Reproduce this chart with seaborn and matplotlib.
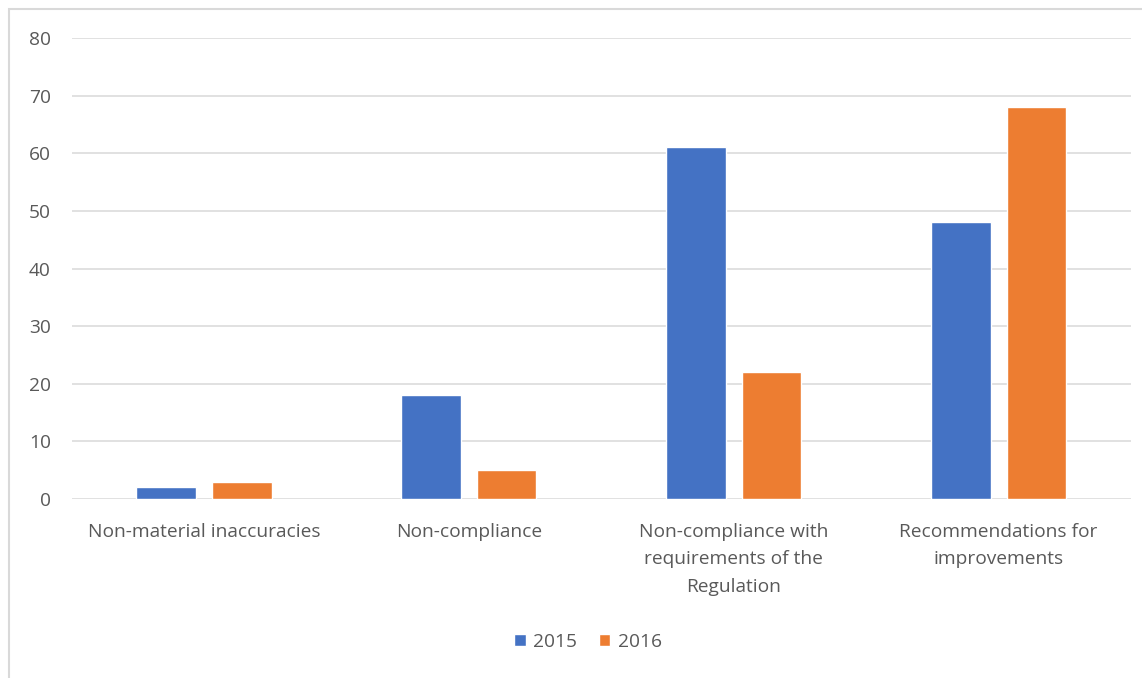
import matplotlib
matplotlib.use("Agg")
import matplotlib.pyplot as plt
from matplotlib.patches import Rectangle
import seaborn as sns
import pandas as pd

categories = [
    "Non-material inaccuracies",
    "Non-compliance",
    "Non-compliance with\nrequirements of the\nRegulation",
    "Recommendations for\nimprovements",
]
years = ["2015", "2016"]
values_2015 = [2, 18, 61, 48]
values_2016 = [3, 5, 22, 68]
y_ticks = [0, 10, 20, 30, 40, 50, 60, 70, 80]

df = pd.DataFrame({
    "category": categories * 2,
    "year": [years[0]] * len(categories) + [years[1]] * len(categories),
    "count": values_2015 + values_2016,
})

sns.set_theme(style="white")
plt.rcParams["font.family"] = ["Open Sans", "DejaVu Sans"]

W, H = 1142, 678
fig = plt.figure(figsize=(W / 100, H / 100), dpi=100)
ax = fig.add_axes([71.6 / W, 1 - 499 / H, (1131 - 71.6) / W, (499 - 38) / H])

palette = {"2015": "#4472C4", "2016": "#ED7D31"}
sns.barplot(data=df, x="category", y="count", hue="year", order=categories,
            hue_order=years, palette=palette, width=0.57, gap=0.21,
            saturation=1, ax=ax, legend=True)

ax.set_ylim(0, 80)
ax.set_xlim(-0.5, len(categories) - 0.5)
ax.set_yticks(y_ticks)
ax.yaxis.grid(True, color="#d9d9d9", linewidth=1.1)
ax.set_axisbelow(True)
for s in ax.spines.values():
    s.set_visible(False)
ax.set_xlabel("")
ax.set_ylabel("")
ax.tick_params(axis="both", length=0, colors="#595959", labelsize=13.8)
ax.tick_params(axis="y", pad=15)
ax.tick_params(axis="x", pad=17)
for lbl in ax.get_xticklabels():
    lbl.set_linespacing(1.68)
    lbl.set_verticalalignment("top")

leg = ax.legend(loc="center", bbox_to_anchor=((588 - 71.6) / (1131 - 71.6), -(642 - 499) / (499 - 38)),
                ncol=2, frameon=False, fontsize=13.8, handlelength=0.62, handleheight=0.62,
                handletextpad=0.4, columnspacing=1.1)
for t in leg.get_texts():
    t.set_color("#595959")

# chart area border
fig.add_artist(Rectangle((9 / W, -0.1), 1.2, 1 - 9 / H + 0.1, transform=fig.transFigure,
                         fill=False, edgecolor="#d9d9d9", linewidth=1.5))

fig.savefig("out.png", dpi=100)
